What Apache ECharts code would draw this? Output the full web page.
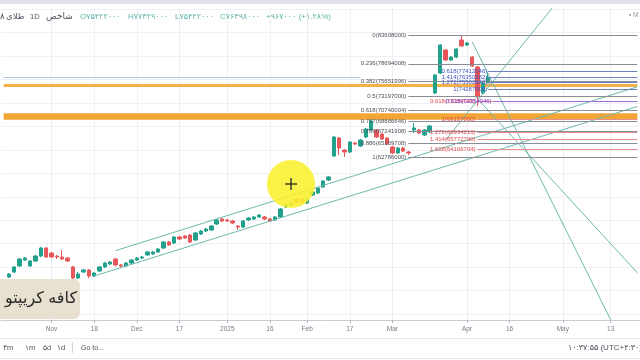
<!DOCTYPE html>
<html><head><meta charset="utf-8">
<script src="https://cdn.jsdelivr.net/npm/echarts@6/dist/echarts.min.js"></script>
<style>html,body{margin:0;padding:0;background:#fff}#c{width:640px;height:360px}</style>
</head><body><div id="c"></div>
<script>
// ---- data (prices in millions) ----
const opens  = [null,42.31,43.16,44.19,45.21,44.19,45.04,45.89,47.26,46.41,45.89,45.72,45.55,44.02,42.14,43.16,43.51,42.48,43.33,44.02,44.53,45.38,44.36,44.19,44.70,45.21,45.55,46.07,46.24,46.58,47.26,48.28,48.11,49.14,49.31,49.48,48.62,49.65,50.16,50.33,51.35,52.21,52.04,51.87,51.01,50.84,52.04,52.21,52.55,52.55,52.21,52.04,52.55,54.26,54.60,55.62,55.62,54.94,56.30,56.65,57.67,58.86,62.96,66.03,63.98,63.64,65.18,64.67,66.20,67.40,67.40,66.71,66.03,64.50,63.47,64.32,63.64,67.40,67.40,66.54,67.06,73.71,77.12,81.05,79.34,79.85,82.75,81.90,79.85,78.15,73.71,75.42];
const closes = [null,42.82,44.02,45.38,45.55,45.04,45.89,47.26,45.72,45.72,45.72,45.38,45.04,42.14,42.82,43.51,42.48,42.99,44.02,44.70,44.87,44.36,44.19,44.70,45.21,45.55,45.72,46.58,46.58,47.09,48.28,47.77,49.14,48.79,48.96,48.28,49.82,50.16,50.50,51.01,52.04,51.87,51.87,51.53,50.84,51.87,52.38,52.55,52.89,52.21,51.87,52.55,53.92,54.60,54.94,55.11,54.94,55.62,56.82,57.50,58.69,59.38,66.20,64.32,63.64,65.35,65.01,65.69,67.57,68.93,66.20,65.86,65.01,63.47,64.32,63.81,63.47,67.74,66.88,67.40,68.08,76.78,81.90,79.34,79.85,81.22,81.73,82.24,78.32,73.03,75.43,76.40];
const lows   = [null,42.14,42.99,44.02,45.04,44.02,44.87,45.72,45.55,45.55,45.38,45.21,44.87,41.97,41.97,42.99,42.14,42.31,43.16,43.85,44.36,44.19,43.85,44.02,44.53,45.04,45.38,45.89,46.07,46.41,47.09,47.60,47.94,48.62,48.79,48.11,48.45,49.48,49.99,50.16,51.18,51.70,51.70,51.35,50.33,50.67,51.87,52.04,52.38,52.04,51.70,51.87,52.38,54.09,54.43,54.94,54.77,54.77,56.13,56.47,57.50,58.69,62.79,63.13,62.79,63.47,64.84,64.50,66.03,67.23,66.03,65.69,64.84,63.30,63.30,63.64,63.13,66.88,66.71,66.37,66.88,73.54,76.95,79.17,79.17,79.68,81.56,81.73,78.15,71.50,73.54,75.42];
const highs  = [null,42.99,44.19,45.55,45.72,45.21,46.07,47.43,47.43,46.58,46.07,46.92,45.72,44.19,43.16,43.68,43.68,43.16,44.19,44.87,45.04,45.55,44.53,44.87,45.38,45.72,45.89,46.75,46.75,47.26,48.45,48.45,49.31,49.31,49.48,49.65,49.99,50.33,50.67,51.18,52.21,52.38,52.21,52.04,51.18,52.04,52.55,52.72,53.06,52.72,52.38,52.72,54.09,54.77,55.11,55.79,55.79,55.79,56.99,57.67,58.86,59.55,66.37,66.20,64.15,65.52,65.35,65.86,67.74,69.10,67.57,66.88,66.20,64.67,64.50,64.50,63.81,68.59,67.57,67.57,68.25,76.95,82.07,81.22,80.02,81.39,83.61,82.41,80.02,78.32,75.59,77.33];

const slotCount = 120;
const tickIndex = [9,17,25,33,42,50,57,65,73,87,95,105,114];
const tickText  = ['Nov','18','Dec','17','2025','16','Feb','17','Mar','Apr','16','May','13'];
const gridPrices = [36,40,44,48,52,56,60,64,68,72,76,80,84,88];

const fibLeftLevels = ['0','0.236','0.382','0.5','0.618','0.707','0.786','0.886','1'];
const fibLeftPrices = [83608000,78694008,75651996,73197000,70740004,68886646,67241908,65159708,62786000];
const fibRedLevels  = ['0.618','1','1.272','1.414','1.618'];
const fibRedPrices  = [72354046,69157000,66934216,65772790,64106704];
const fibBlueLevels = ['0.618','1.414','1.272','1'];
const fibBluePrices = [77412046,76350282,75502046,74287000];
const fibPurpleLevels = ['0.618'];
const fibPurplePrices = [72354046];
const zonePrices = [75100000, 69750000];
const lightBluePrice = 76440000;

// trend lines: [[slot, price], [slot, price]]
const trendLines = [
  [[21, 46.80], [119, 74.77]],
  [[17, 42.48], [119, 71.42]],
  [[83, 65.69], [103, 88.20]],
  [[88, 82.41], [114, 35.00]],
  [[89, 72.70], [119, 43.03]]
];

const header = {name1:'۸', name2:'طلای', tf:'1D', name3:'شاخص',
  o:'O۷۵۴۲۲۰۰۰', h:'H۷۷۳۲۹۰۰۰', l:'L۷۵۴۲۲۰۰۰', c:'C۷۶۳۹۸۰۰۰', chg:'+۹۶۷۰۰۰ (+۱.۲۸%)'};
const toolbar = ['۳m','۱m','۵d','۱d'];
const clockText = '۱۰:۳۷:۵۵ (UTC+۴:۳۰)';
const watermark = 'کافه کریپتو';

// ---- build ----
const FF = 'Liberation Sans, DejaVu Sans, sans-serif';
const cats = Array.from({length: slotCount}, (_, i) => String(i));
const tickSet = new Set(tickIndex);
const candles = opens.map((o, i) => o == null ? '-' : [o, closes[i], lows[i], highs[i]]);

function hLine(s, e, price, color, width, text, tcolor, dist) {
  const a = {coord: [s, price], lineStyle: {color: color, width: width, type: 'solid', opacity: 1}};
  a.label = text ? {show: true, position: 'start', formatter: text, color: tcolor, fontSize: 6, distance: dist, fontFamily: FF} : {show: false};
  return [a, {coord: [e, price]}];
}
function markerSeries(z, data) {
  return {type: 'line', data: [], silent: true, z: z,
    markLine: {symbol: ['none','none'], silent: true, animation: false, z: z, label: {show: false},
      emphasis: {disabled: true}, data: data}};
}

const gridData = [];
tickIndex.forEach(i => gridData.push({xAxis: i, lineStyle: {color: '#eef0f4', width: 1, type: 'solid'}}));
gridPrices.forEach(p => gridData.push({yAxis: p, lineStyle: {color: '#eef0f4', width: 1, type: 'solid'}}));

const zoneData = [
  hLine(0, 119, zonePrices[0] / 1e6, '#f6b04a', 3),
  hLine(0, 119, zonePrices[1] / 1e6, '#f3a535', 6.5),
  hLine(0, 67, lightBluePrice / 1e6, '#a9cbe6', 1.2)
];

const trendData = trendLines.map(t => [
  {coord: t[0], lineStyle: {color: '#6fb9ab', width: 1, type: 'solid'}}, {coord: t[1]}]);

const fibLeftData = fibLeftLevels.map((lv, i) =>
  hLine(76, 119, fibLeftPrices[i] / 1e6, '#8a8d96', 1, lv + '(' + fibLeftPrices[i] + ')', '#4f525c', 2));
const fibRedData = fibRedLevels.map((lv, i) =>
  hLine(89, 119, fibRedPrices[i] / 1e6, '#e98d8d', 1, lv + '(' + fibRedPrices[i] + ')', '#e04b4f', 2));
const fibBlueData = fibBlueLevels.map((lv, i) =>
  hLine(91, 119, fibBluePrices[i] / 1e6, '#6f7fbf', 1, lv + '(' + fibBluePrices[i] + ')', '#3d54c4', 1))
  .concat(fibPurpleLevels.map((lv, i) =>
  hLine(92, 119, fibPurplePrices[i] / 1e6, '#9a6cd8', 1, lv + '(' + fibPurplePrices[i] + ')', '#7a36cc', 2)));

const gray = '#50535e';
const teal = '#5fb5aa';
function txt(x, y, s, size, color, align) {
  return {type: 'text', x: x, y: y, z: 100, silent: true,
    style: {text: s, fontSize: size, fill: color, fontFamily: FF, align: align || 'left', verticalAlign: 'middle'}};
}

const chart = echarts.init(document.getElementById('c'), null, {renderer: 'canvas'});
chart.setOption({
  animation: false,
  backgroundColor: '#ffffff',
  grid: {left: 1, right: -10, top: 8, bottom: 40},
  xAxis: {
    type: 'category', data: cats, boundaryGap: true,
    axisLine: {lineStyle: {color: '#c9ccd4', width: 1}},
    axisTick: {show: true, alignWithLabel: true, interval: (i) => tickSet.has(i), length: 3, lineStyle: {color: '#b2b5be'}},
    axisLabel: {interval: (i) => tickSet.has(i), formatter: (v, i) => tickText[tickIndex.indexOf(i)] || '',
      color: '#787b86', fontSize: 6.5, margin: 6, fontFamily: FF},
    splitLine: {show: false}
  },
  yAxis: {type: 'value', min: 34.97, max: 88.22, show: false, splitLine: {show: false}},
  series: [
    markerSeries(1, gridData),
    markerSeries(2, zoneData),
    {type: 'candlestick', data: candles, z: 3, barWidth: '72%', silent: true,
      itemStyle: {color: '#22a18c', color0: '#e8585a', borderColor: '#22a18c', borderColor0: '#e8585a', borderWidth: 1}},
    markerSeries(4, trendData),
    markerSeries(5, fibLeftData),
    markerSeries(6, fibRedData),
    markerSeries(7, fibBlueData)
  ],
  graphic: [
    {type: 'rect', z: 100, silent: true, shape: {x: 0, y: 0, width: 640, height: 4}, style: {fill: '#e2e4e9'}},
    txt(0, 17, header.name1, 8.5, gray),
    txt(6, 17, header.name2, 8.5, gray),
    txt(30, 17, header.tf, 7.5, gray),
    txt(46, 17, header.name3, 9, gray),
    txt(80, 17, header.o, 8, teal),
    txt(128, 17, header.h, 8, teal),
    txt(175, 17, header.l, 8, teal),
    txt(220, 17, header.c, 8, teal),
    txt(266, 17, header.chg, 8, teal),
    txt(629, 15, '• M', 6.5, '#9598a1'),
    {type: 'rect', z: 100, silent: true, shape: {x: -8, y: 279, width: 88, height: 40, r: 6}, style: {fill: '#e8e0d0'}},
    txt(77, 299, watermark, 16, '#2b2b2b', 'right'),
    {type: 'circle', z: 101, silent: true, shape: {cx: 291, cy: 184, r: 24}, style: {fill: 'rgba(250,240,45,0.88)'}},
    {type: 'line', z: 102, silent: true, shape: {x1: 285, y1: 184, x2: 297, y2: 184}, style: {stroke: '#222', lineWidth: 1.3}},
    {type: 'line', z: 102, silent: true, shape: {x1: 291, y1: 178, x2: 291, y2: 190}, style: {stroke: '#222', lineWidth: 1.3}},
    {type: 'line', z: 100, silent: true, shape: {x1: 0, y1: 338.5, x2: 640, y2: 338.5}, style: {stroke: '#e6e8ed', lineWidth: 1}},
    {type: 'line', z: 100, silent: true, shape: {x1: 0, y1: 358.5, x2: 640, y2: 358.5}, style: {stroke: '#e6e8ed', lineWidth: 1}},
    {type: 'line', z: 100, silent: true, shape: {x1: 72.5, y1: 342, x2: 72.5, y2: 353}, style: {stroke: '#d6d8de', lineWidth: 1}},
    txt(3, 348, toolbar[0], 7.5, gray),
    txt(25, 348, toolbar[1], 7.5, gray),
    txt(43, 348, toolbar[2], 7.5, gray),
    txt(57, 348, toolbar[3], 7.5, gray),
    txt(81, 348, 'Go to...', 7, gray),
    txt(568, 348, clockText, 8, gray)
  ]
});
</script></body></html>
